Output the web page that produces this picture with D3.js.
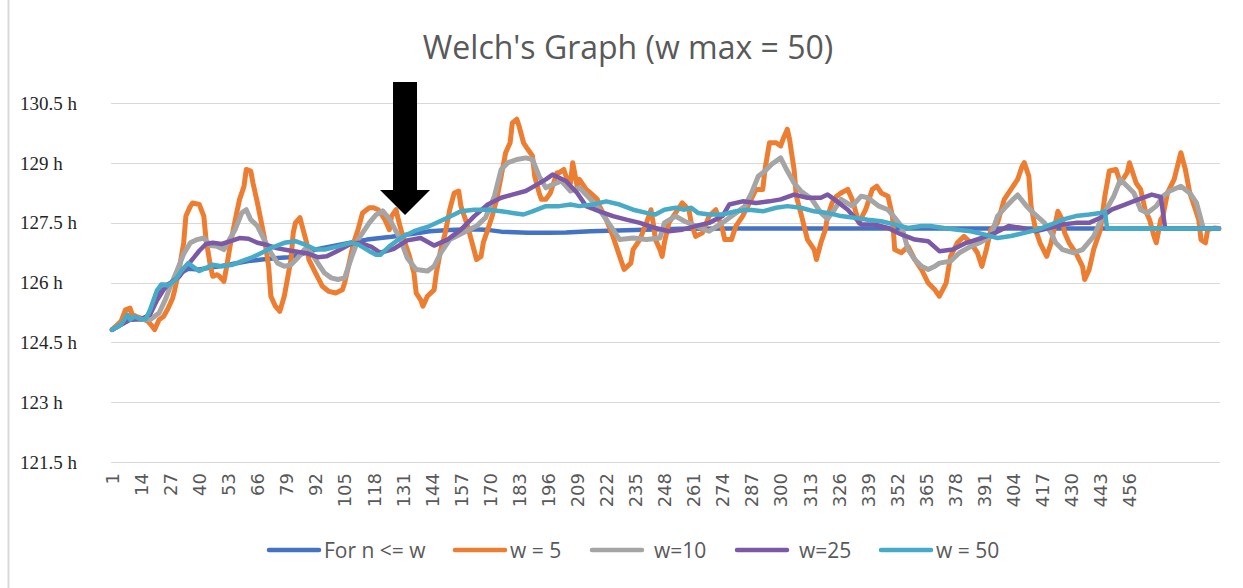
<!DOCTYPE html>
<html>
<head>
<meta charset="utf-8">
<script src="https://cdn.jsdelivr.net/npm/d3@7"></script>
<style>
  html, body { margin: 0; padding: 0; background: #fff; }
  svg { display: block; }
</style>
</head>
<body>
<svg id="chart"></svg>
<script>
// categories 1..496, labels every 13th
let categoryCount = 496;
let xTickLabels = [1, 14, 27, 40, 53, 66, 79, 92, 105, 118, 131, 144, 157, 170, 183, 196, 209, 222,
  235, 248, 261, 274, 287, 300, 313, 326, 339, 352, 365, 378, 391, 404, 417, 430, 443, 456];
let yTicks = [121.5, 123, 124.5, 126, 127.5, 129, 130.5];

let seriesNames = ['For n <= w', 'w = 5', 'w=10', 'w=25', 'w = 50'];

// [category, hours]
let forNw = [[1,124.82],[5,124.95],[8,125.15],[11,125.12],[14,125.08],[17,125.15],[20,125.6],[23,125.95],
  [26,125.95],[29,126.05],[32,126.25],[35,126.35],[40,126.33],[45,126.38],[50,126.42],[56,126.48],
  [62,126.54],[68,126.58],[75,126.62],[80,126.64],[86,126.72],[92,126.83],[100,126.92],[108,127.01],
  [115,127.08],[126,127.15],[135,127.22],[143,127.29],[152,127.32],[161,127.34],[168,127.33],[175,127.28],
  [187,127.25],[196,127.25],[204,127.26],[215,127.29],[235,127.32],[255,127.35],[280,127.36],[496,127.36]];

let w5 = [[1,124.82],[5,125.03],[7,125.32],[9,125.36],[10,125.2],[12,125.15],[14,125.11],[17,125.03],
  [19,124.9],[20,124.82],[22,125.07],[24,125.15],[26,125.35],[28,125.6],[29,125.82],[31,126.33],[33,127.0],
  [34,127.67],[36,127.92],[37,128.0],[40,127.96],[42,127.67],[43,127.08],[45,126.41],[46,126.16],[48,126.2],
  [49,126.16],[51,126.03],[52,126.33],[54,127.0],[57,127.83],[58,128.09],[60,128.42],[61,128.84],[63,128.8],
  [64,128.5],[66,128.0],[69,127.16],[71,126.41],[72,125.66],[74,125.41],[76,125.28],[78,125.66],[81,126.58],
  [82,127.25],[83,127.5],[85,127.63],[86,127.42],[88,127.0],[89,126.58],[92,126.24],[95,125.91],[98,125.78],
  [101,125.74],[104,125.82],[105,125.99],[107,126.49],[109,127.0],[111,127.33],[113,127.75],[116,127.88],
  [118,127.88],[120,127.83],[123,127.58],[125,127.33],[126,127.67],[128,127.83],[129,127.58],[131,127.16],
  [134,126.66],[136,126.24],[137,125.74],[139,125.57],[140,125.41],[142,125.66],[145,125.82],[146,126.24],
  [148,126.83],[150,127.25],[152,127.83],[154,128.25],[156,128.3],[157,127.92],[160,127.42],[162,127.0],
  [164,126.58],[166,126.66],[167,127.0],[169,127.33],[171,127.67],[173,128.09],[175,128.67],[177,129.26],
  [179,129.51],[180,130.01],[182,130.1],[183,129.93],[185,129.51],[187,129.34],[189,129.18],[190,128.67],
  [192,128.25],[193,128.09],[195,128.09],[197,128.25],[198,128.42],[200,128.76],[201,128.76],[203,128.84],
  [204,128.67],[206,128.5],[207,129.01],[209,128.42],[210,128.59],[213,128.34],[215,128.25],[218,128.09],
  [219,127.92],[222,127.58],[225,127.16],[228,126.66],[230,126.33],[233,126.49],[234,126.83],[237,127.08],
  [240,127.5],[242,127.83],[243,127.5],[244,127.08],[246,126.83],[247,126.66],[248,127.0],[250,127.5],
  [253,127.75],[256,128.0],[259,127.83],[260,127.5],[262,127.16],[265,127.25],[268,127.67],[271,127.83],
  [272,127.67],[274,127.33],[275,127.08],[278,127.08],[280,127.42],[283,127.67],[286,128.0],[289,128.34],
  [292,128.34],[293,128.84],[295,129.51],[298,129.51],[300,129.43],[301,129.59],[303,129.85],[304,129.59],
  [306,128.84],[307,128.17],[309,127.75],[312,127.08],[315,126.83],[316,126.58],[318,127.0],[320,127.33],
  [321,127.67],[323,128.0],[325,128.17],[327,128.25],[330,128.34],[332,128.09],[335,127.5],[338,127.83],
  [341,128.34],[343,128.42],[345,128.25],[348,128.17],[350,127.67],[351,126.83],[354,126.75],[357,126.91],
  [360,126.58],[363,126.33],[366,125.99],[369,125.82],[371,125.66],[374,125.99],[376,126.66],[379,127.0],
  [382,127.16],[385,127.0],[388,126.75],[390,126.41],[392,126.83],[394,127.33],[397,127.5],[400,128.09],
  [403,128.34],[406,128.59],[408,128.92],[409,129.01],[411,128.67],[412,127.92],[414,127.33],[416,127.0],
  [419,126.66],[421,127.0],[424,127.79],[426,127.58],[427,127.25],[429,127.0],[432,126.75],[435,126.41],
  [436,126.08],[438,126.33],[440,126.83],[443,127.33],[445,128.17],[447,128.8],[450,128.84],[452,128.5],
  [455,128.76],[456,129.01],[459,128.5],[461,128.34],[463,127.83],[465,127.58],[467,127.16],[468,127.0],
  [470,127.58],[471,127.67],[473,128.25],[476,128.59],[479,129.26],[481,128.84],[483,128.25],[485,127.92],
  [487,127.58],[488,127.08],[490,127.0],[491,127.33],[494,127.37],[496,127.36]];

let w10 = [[1,124.82],[5,124.95],[9,125.08],[13,125.1],[18,125.07],[22,125.24],[25,125.6],[27,125.9],
  [30,126.3],[33,126.72],[36,127.0],[39,127.08],[42,127.12],[45,126.93],[48,126.91],[51,126.83],[53,127.04],
  [56,127.33],[59,127.75],[61,127.83],[63,127.58],[66,127.42],[69,127.08],[72,126.75],[75,126.49],[78,126.41],
  [81,126.45],[84,126.62],[87,126.83],[90,126.75],[93,126.49],[96,126.24],[99,126.12],[102,126.08],
  [105,126.12],[108,126.62],[111,127.08],[116,127.5],[119,127.7],[122,127.8],[125,127.6],[130,127.08],
  [133,126.62],[137,126.33],[142,126.29],[145,126.41],[148,126.75],[152,127.08],[158,127.25],[164,127.42],
  [168,127.63],[172,128.17],[175,128.84],[178,129.01],[182,129.09],[186,129.13],[189,129.09],[192,128.67],
  [195,128.38],[198,128.46],[202,128.55],[206,128.3],[210,128.38],[215,128.09],[219,127.83],[224,127.42],
  [228,127.08],[234,127.12],[240,127.08],[246,127.12],[248,127.5],[253,127.67],[257,127.54],[262,127.42],
  [268,127.29],[274,127.5],[280,127.75],[284,127.92],[287,128.25],[290,128.67],[293,128.8],[296,128.97],
  [300,129.13],[303,128.8],[306,128.5],[309,128.3],[314,128.09],[318,127.75],[321,127.6],[324,127.83],
  [327,128.09],[332,127.92],[336,128.17],[339,128.13],[344,127.92],[348,127.83],[351,127.63],[354,127.42],
  [357,126.83],[360,126.58],[363,126.41],[366,126.33],[369,126.41],[371,126.49],[376,126.54],[380,126.75],
  [385,126.91],[389,127.0],[394,127.16],[397,127.67],[401,127.92],[404,128.09],[406,128.2],[410,127.92],
  [413,127.75],[418,127.5],[421,127.25],[423,127.0],[426,126.83],[431,126.75],[435,126.83],[440,127.16],
  [444,127.67],[449,128.17],[452,128.59],[455,128.42],[458,128.25],[461,127.83],[464,127.75],[468,127.92],
  [471,128.17],[474,128.3],[479,128.42],[483,128.25],[486,128.0],[488,127.58],[489,127.36],[496,127.36]];

let w25 = [[1,124.82],[5,124.95],[9,125.07],[14,125.08],[18,125.2],[21,125.55],[24,125.82],[26,125.95],
  [31,126.15],[35,126.45],[40,126.8],[43,126.97],[46,127.0],[50,126.97],[55,127.06],[58,127.12],[62,127.1],
  [66,127.0],[70,126.95],[75,126.86],[81,126.8],[88,126.74],[93,126.64],[97,126.66],[102,126.8],[108,126.98],
  [112,127.0],[117,126.9],[121,126.75],[127,126.85],[133,127.06],[139,127.12],[145,126.93],[151,127.08],
  [157,127.33],[163,127.67],[169,127.96],[175,128.13],[180,128.21],[186,128.3],[191,128.46],[195,128.59],
  [198,128.71],[204,128.55],[209,128.25],[213,127.92],[219,127.79],[225,127.67],[231,127.58],[237,127.5],
  [244,127.37],[250,127.29],[256,127.33],[262,127.42],[268,127.5],[274,127.67],[277,127.96],[283,128.04],
  [289,128.0],[295,128.04],[300,128.09],[306,128.21],[312,128.13],[318,128.13],[321,128.21],[324,128.09],
  [330,127.83],[336,127.46],[342,127.46],[348,127.37],[354,127.21],[360,127.08],[366,127.04],[371,126.79],
  [377,126.83],[383,127.0],[390,127.12],[396,127.25],[402,127.42],[408,127.37],[414,127.29],[420,127.37],
  [426,127.46],[432,127.5],[438,127.5],[443,127.63],[448,127.83],[454,127.96],[460,128.09],[466,128.21],
  [470,128.15],[472,127.36],[496,127.36]];

let w50 = [[1,124.82],[5,124.95],[8,125.2],[9,125.07],[11,125.15],[14,125.08],[16,125.08],[18,125.32],
  [21,125.8],[23,125.95],[26,125.93],[29,126.05],[32,126.3],[35,126.49],[37,126.41],[40,126.29],[43,126.37],
  [46,126.45],[50,126.41],[55,126.45],[59,126.54],[63,126.62],[68,126.75],[72,126.87],[78,127.0],[83,127.04],
  [87,126.96],[92,126.83],[96,126.83],[102,126.91],[108,127.0],[111,126.96],[116,126.79],[119,126.7],
  [121,126.7],[125,126.91],[130,127.12],[136,127.29],[143,127.42],[151,127.63],[157,127.79],[163,127.83],
  [169,127.83],[175,127.79],[180,127.75],[185,127.71],[189,127.79],[195,127.92],[201,127.92],[206,127.96],
  [210,127.92],[216,127.96],[222,128.04],[228,127.96],[234,127.83],[240,127.75],[244,127.71],[248,127.83],
  [253,127.88],[257,127.83],[260,127.88],[263,127.75],[268,127.71],[274,127.71],[280,127.79],[286,127.83],
  [292,127.79],[298,127.88],[303,127.92],[309,127.88],[315,127.79],[321,127.75],[327,127.67],[333,127.63],
  [339,127.58],[345,127.54],[351,127.46],[357,127.37],[363,127.42],[367,127.42],[373,127.37],[379,127.33],
  [385,127.29],[391,127.21],[397,127.12],[403,127.17],[409,127.25],[415,127.33],[421,127.46],[426,127.58],
  [432,127.67],[438,127.71],[443,127.75],[445,127.79],[446,127.36],[496,127.36]];

let allSeries = [forNw, w5, w10, w25, w50];
let colors = ['#4472C4', '#ED7D31', '#A5A5A5', '#7B59A6', '#47ABC8'];
let strokeWidths = [4.5, 5, 5, 4.5, 4.5];

let width = 1243;
let height = 588;
let plotLeft = 111;
let plotRight = 1220;
let plotTop = 103.3;
let plotBottom = 462;

let svg = d3.select('#chart').attr('width', width).attr('height', height);

svg.append('rect').attr('width', width).attr('height', height).attr('fill', '#fff');
svg.append('line')
  .attr('x1', 8.5).attr('x2', 8.5).attr('y1', 0).attr('y2', height)
  .attr('stroke', '#d9d9d9').attr('stroke-width', 2);

let xScale = d3.scaleLinear().domain([0.5, categoryCount + 0.5]).range([plotLeft, plotRight]);
let yScale = d3.scaleLinear().domain([121.5, 130.5]).range([plotBottom, plotTop]);

// gridlines
svg.append('g')
  .selectAll('line')
  .data(yTicks)
  .enter()
  .append('line')
  .attr('x1', plotLeft).attr('x2', plotRight)
  .attr('y1', d => Math.round(yScale(d)) + 0.5)
  .attr('y2', d => Math.round(yScale(d)) + 0.5)
  .attr('stroke', '#d9d9d9').attr('stroke-width', 1);

// y axis, labels left aligned
let yAxis = d3.axisLeft(yScale).tickValues(yTicks).tickSize(0).tickFormat(d => d + ' h');
let yG = svg.append('g').attr('transform', 'translate(' + plotLeft + ',0)').call(yAxis);
yG.select('.domain').remove();
yG.selectAll('text')
  .attr('x', 20 - plotLeft)
  .attr('text-anchor', 'start')
  .attr('fill', '#262626')
  .style('font-family', '"Liberation Serif", "DejaVu Serif", serif')
  .style('font-size', '19px');

// x axis, rotated labels
let xAxis = d3.axisBottom(xScale).tickValues(xTickLabels).tickSize(0).tickFormat(d3.format('d'));
let xG = svg.append('g').attr('transform', 'translate(0,' + plotBottom + ')').call(xAxis);
xG.select('.domain').remove();
xG.selectAll('text')
  .attr('transform', 'rotate(-90)')
  .attr('x', -11)
  .attr('y', 0)
  .attr('dy', '0.35em')
  .attr('text-anchor', 'end')
  .attr('fill', '#595959')
  .style('font-family', '"DejaVu Sans", sans-serif')
  .style('font-size', '18px');

// series
let line = d3.line()
  .x(d => xScale(d[0]))
  .y(d => yScale(d[1]));

svg.append('g')
  .selectAll('path')
  .data(allSeries)
  .enter()
  .append('path')
  .attr('d', d => line(d))
  .attr('fill', 'none')
  .attr('stroke', (d, i) => colors[i])
  .attr('stroke-width', (d, i) => strokeWidths[i])
  .attr('stroke-linejoin', 'round')
  .attr('stroke-linecap', 'round');

// title
svg.append('text')
  .attr('x', 628).attr('y', 59)
  .attr('text-anchor', 'middle')
  .attr('fill', '#595959')
  .style('font-family', '"Open Sans", sans-serif')
  .style('font-size', '32px')
  .text("Welch's Graph (w max = 50)");

// arrow annotation
let ax = xScale(132);
let tipY = yScale(127.7);
svg.append('path')
  .attr('d', 'M' + (ax - 12) + ',82 H' + (ax + 12) + ' V' + (tipY - 25) + ' H' + (ax + 25) +
    ' L' + ax + ',' + tipY + ' L' + (ax - 25) + ',' + (tipY - 25) + ' H' + (ax - 12) + ' Z')
  .attr('fill', '#000');

// legend
let legendX = [267, 453, 590, 735, 879];
let legend = svg.append('g').attr('transform', 'translate(0,550)');
let items = legend.selectAll('g')
  .data(seriesNames)
  .enter()
  .append('g')
  .attr('transform', (d, i) => 'translate(' + legendX[i] + ',0)');
items.append('line')
  .attr('x1', 2).attr('x2', 52).attr('y1', 0).attr('y2', 0)
  .attr('stroke', (d, i) => colors[i])
  .attr('stroke-width', 4.5)
  .attr('stroke-linecap', 'round');
items.append('text')
  .attr('x', (d, i) => i === 0 || i === 1 || i === 4 ? 57 : 64)
  .attr('y', 7.5)
  .attr('fill', '#595959')
  .style('font-family', '"Open Sans", sans-serif')
  .style('font-size', '21px')
  .text(d => d);
</script>
</body>
</html>
